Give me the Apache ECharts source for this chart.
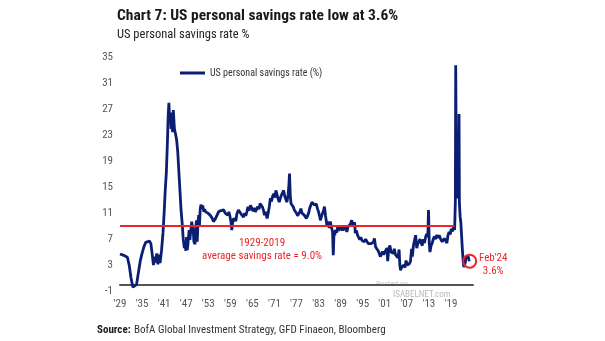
<!DOCTYPE html>
<html>
<head>
<meta charset="utf-8">
<script src="https://cdn.jsdelivr.net/npm/echarts@6/dist/echarts.min.js"></script>
<style>html,body{margin:0;padding:0;background:#fff}#c{width:605px;height:341px}</style>
</head>
<body>
<div id="c"></div>
<script>
var FONT = "'Liberation Sans Narrow', 'Roboto Condensed', 'Open Sans', sans-serif";
var years = [1929.0,1930.0,1931.0,1931.5,1932.0,1932.5,1933.0,1933.5,1934.0,1934.5,1935.0,1935.5,1936.0,1936.5,1937.0,1937.4,1937.8,1938.1,1938.4,1938.7,1939.0,1939.3,1939.6,1939.9,1940.3,1940.7,1941.0,1941.3,1941.6,1941.9,1942.1,1942.3,1942.5,1942.7,1942.9,1943.1,1943.3,1943.5,1943.8,1944.1,1944.4,1944.7,1945.0,1945.3,1945.6,1945.9,1946.2,1946.5,1946.7,1946.9,1947.1,1947.3,1947.5,1947.8,1948.0,1948.2,1948.5,1948.7,1948.9,1949.1,1949.4,1949.6,1949.8,1950.0,1950.2,1950.4,1950.6,1950.8,1951.0,1951.3,1951.5,1951.8,1952.0,1952.3,1952.6,1952.9,1953.2,1953.5,1953.8,1954.1,1954.4,1954.7,1955.0,1955.4,1955.8,1956.1,1956.5,1956.9,1957.2,1957.6,1958.0,1958.3,1958.6,1958.9,1959.2,1959.4,1959.6,1959.9,1960.2,1960.5,1960.8,1961.2,1961.5,1961.9,1962.3,1962.6,1962.9,1963.2,1963.5,1963.8,1964.1,1964.5,1964.9,1965.2,1965.5,1965.8,1966.2,1966.5,1966.8,1967.1,1967.4,1967.7,1968.0,1968.3,1968.6,1969.0,1969.3,1969.6,1969.9,1970.2,1970.5,1970.8,1971.1,1971.4,1971.7,1972.0,1972.3,1972.6,1972.9,1973.2,1973.5,1973.8,1974.1,1974.4,1974.7,1974.9,1975.1,1975.3,1975.5,1975.8,1976.1,1976.4,1976.7,1977.0,1977.3,1977.6,1977.9,1978.2,1978.5,1978.8,1979.1,1979.4,1979.7,1980.0,1980.3,1980.6,1980.9,1981.2,1981.5,1981.8,1982.1,1982.4,1982.7,1983.0,1983.3,1983.5,1983.8,1984.1,1984.4,1984.6,1984.9,1985.1,1985.3,1985.6,1985.9,1986.2,1986.5,1986.8,1987.0,1987.2,1987.4,1987.6,1987.9,1988.2,1988.5,1988.9,1989.2,1989.5,1989.8,1990.1,1990.4,1990.7,1991.0,1991.3,1991.7,1992.0,1992.2,1992.5,1992.8,1993.0,1993.3,1993.6,1993.9,1994.2,1994.5,1994.8,1995.1,1995.5,1995.8,1996.2,1996.5,1996.9,1997.2,1997.5,1997.9,1998.2,1998.5,1998.9,1999.2,1999.5,1999.8,2000.1,2000.4,2000.7,2001.0,2001.3,2001.6,2001.8,2002.1,2002.4,2002.7,2003.0,2003.3,2003.6,2003.9,2004.2,2004.6,2004.9,2005.1,2005.3,2005.6,2005.9,2006.2,2006.5,2006.8,2007.1,2007.4,2007.7,2008.0,2008.3,2008.5,2008.8,2009.1,2009.4,2009.7,2010.0,2010.3,2010.6,2010.9,2011.2,2011.5,2011.8,2012.1,2012.4,2012.7,2012.9,2013.1,2013.3,2013.6,2013.9,2014.2,2014.5,2014.8,2015.1,2015.5,2015.8,2016.2,2016.6,2016.9,2017.2,2017.6,2017.9,2018.2,2018.5,2018.8,2019.1,2019.4,2019.7,2019.9,2020.0,2020.2,2020.3,2020.4,2020.5,2020.6,2020.7,2020.9,2021.0,2021.1,2021.2,2021.3,2021.5,2021.7,2021.9,2022.1,2022.3,2022.5,2022.7,2022.9,2023.1,2023.4,2023.7,2023.9,2024.1];
var rates = [4.7,4.5,4.2,3.0,1.0,-0.4,-0.7,0.0,1.8,3.6,4.8,5.8,6.5,6.8,6.7,6.3,4.5,3.0,4.3,3.4,4.8,3.1,4.6,3.3,5.3,8.0,11.0,14.5,17.2,22.0,26.0,28.0,25.0,26.5,24.0,26.0,23.5,26.9,24.0,23.2,22.3,20.5,17.5,14.5,11.5,9.5,7.0,5.6,6.5,5.2,7.3,5.3,6.4,8.4,6.9,7.1,9.7,8.9,8.4,6.6,6.2,8.6,9.9,6.6,9.5,10.7,8.9,11.5,12.3,11.7,12.2,11.2,11.6,11.2,11.5,11.0,11.3,10.7,11.0,10.2,9.7,9.4,10.2,10.5,11.2,11.0,11.4,11.2,11.5,11.0,11.3,10.7,11.2,10.5,9.6,8.4,9.4,10.2,10.4,9.8,10.9,11.5,11.7,10.9,11.0,10.4,11.0,10.6,11.2,12.0,11.4,12.2,12.0,11.3,11.8,11.2,11.5,12.0,11.6,12.5,12.7,12.0,11.5,10.7,11.2,10.2,11.0,12.0,13.3,12.8,13.6,14.0,13.4,14.5,14.3,13.2,12.7,12.9,13.8,14.0,14.5,13.6,13.5,12.7,13.8,15.0,17.1,13.8,12.5,12.8,12.0,11.5,11.2,11.0,10.6,10.4,11.2,11.7,11.0,11.3,10.7,10.9,10.2,10.4,11.0,11.8,11.5,12.7,13.0,12.3,12.0,12.4,11.7,11.2,10.5,9.9,10.5,11.0,11.5,12.0,10.6,9.8,8.9,9.7,8.7,9.7,8.8,8.2,4.5,8.0,7.6,8.4,8.0,8.9,8.3,8.6,9.0,8.3,8.9,8.4,8.8,8.1,8.9,8.6,9.4,9.9,10.2,9.0,9.6,7.9,8.3,7.6,7.9,6.9,7.3,6.8,7.1,6.6,7.0,6.8,6.3,6.6,6.3,6.0,6.5,7.1,5.8,6.0,5.2,4.8,4.3,4.6,5.1,4.6,5.0,4.8,5.6,3.6,5.6,6.0,5.0,5.2,4.8,5.5,4.6,4.9,4.1,5.4,3.0,2.2,2.7,2.4,3.0,2.6,3.7,3.0,2.8,3.2,3.6,5.5,4.3,6.0,6.8,7.6,5.6,6.3,6.6,7.0,6.4,6.0,7.0,6.4,7.3,7.8,7.3,11.5,6.4,5.0,6.0,6.4,7.0,7.4,7.0,7.6,7.2,7.6,7.0,6.6,6.8,7.1,6.8,6.4,7.6,8.1,7.7,8.6,8.2,8.9,9.1,8.4,12.8,33.8,24.0,19.0,17.5,14.5,13.3,19.9,13.5,26.3,12.5,10.5,9.5,7.5,5.5,3.8,2.7,3.0,3.4,4.2,4.4,4.3,3.8,3.6];
var avgRate = 9.0;
var avgStart = 1929;
var avgEnd = 2019.9;
var latestYear = 2024.1;
var latestRate = 3.6;
var xMin = 1929, xMax = 2025, xLabelStep = 6;
var yMin = -1, yMax = 35, yLabelStep = 4;

var seriesData = years.map(function (y, i) { return [y, rates[i]]; });
var NAVY = '#0b1f72';
var RED = '#e8262b';
var GREY = '#555555';

var chart = echarts.init(document.getElementById('c'));
chart.setOption({
  animation: false,
  backgroundColor: '#ffffff',
  title: [
    { text: 'Chart 7: US personal savings rate low at 3.6%', left: 112, top: 3,
      textStyle: { fontFamily: FONT, fontSize: 15.5, fontWeight: 'bold', color: '#1a1a1a' } },
    { text: 'US personal savings rate %', left: 112, top: 23,
      textStyle: { fontFamily: FONT, fontSize: 12.5, fontWeight: 'normal', color: '#222' } }
  ],
  legend: {
    left: 175, top: 63, itemWidth: 25, itemHeight: 3, itemGap: 4, icon: 'rect',
    textStyle: { fontFamily: FONT, fontSize: 10, color: '#333' },
    data: ['US personal savings rate (%)']
  },
  grid: { left: 120, right: 132, top: 57.5, bottom: 50 },
  xAxis: {
    type: 'value', min: xMin, max: xMax, interval: 1,
    axisLine: { onZero: true, lineStyle: { color: GREY, width: 2 } },
    axisTick: { show: false },
    splitLine: { show: false },
    axisLabel: {
      margin: 8, color: GREY, fontFamily: FONT, fontSize: 11,
      formatter: function (v) {
        if ((v - xMin) % xLabelStep === 0 && v < 2024) return "'" + String(v).slice(2);
        return '';
      }
    }
  },
  yAxis: {
    type: 'value', min: yMin, max: yMax, interval: 1,
    axisLine: { show: false }, axisTick: { show: false }, splitLine: { show: false },
    axisLabel: {
      margin: 7, color: GREY, fontFamily: FONT, fontSize: 11,
      formatter: function (v) { return ((v - yMin) % yLabelStep === 0) ? String(v) : ''; }
    }
  },
  series: [{
    name: 'US personal savings rate (%)',
    type: 'line',
    data: seriesData,
    showSymbol: false,
    symbol: 'none',
    lineStyle: { color: NAVY, width: 2.8 },
    itemStyle: { color: NAVY },
    z: 3,
    markLine: {
      silent: true, symbol: 'none', z: 4,
      lineStyle: { color: RED, width: 2, type: 'solid' },
      label: { show: false },
      data: [[{ coord: [avgStart, avgRate] }, { coord: [avgEnd, avgRate] }]]
    },
    markPoint: {
      silent: true,
      symbol: 'circle', symbolSize: 13,
      itemStyle: { color: 'rgba(0,0,0,0)', borderColor: RED, borderWidth: 2 },
      label: {
        show: true, position: 'right', distance: 4, color: RED,
        fontFamily: FONT, fontSize: 11, lineHeight: 13, align: 'center', offset: [12, 4],
        formatter: "Feb'24\n" + latestRate.toFixed(1) + '%'
      },
      data: [{ coord: [latestYear, latestRate] }]
    }
  }],
  graphic: [
    { type: 'text', x: 262, y: 243, style: { text: avgStart + '-2019', fill: RED, font: '11px ' + FONT, textAlign: 'center', textVerticalAlign: 'middle' } },
    { type: 'text', x: 262, y: 256, style: { text: 'average savings rate = ' + avgRate.toFixed(1) + '%', fill: RED, font: '11px ' + FONT, textAlign: 'center', textVerticalAlign: 'middle' } },
    { type: 'text', x: 376, y: 284, style: { text: 'Posted on', fill: '#c8c8c8', font: '8px ' + FONT, textVerticalAlign: 'middle' } },
    { type: 'text', x: 393, y: 295, style: { text: 'ISABELNET.com', fill: '#b8b8b8', font: '9px ' + FONT, textVerticalAlign: 'middle' } },
    { type: 'text', x: 97, y: 330, style: {
        rich: { b: { fontWeight: 'bold', fontFamily: FONT, fontSize: 11, fill: '#1a1a1a' },
                n: { fontFamily: FONT, fontSize: 11, fill: '#333' } },
        text: '{b|Source:} {n|BofA Global Investment Strategy, GFD Finaeon, Bloomberg}',
        textVerticalAlign: 'middle' } }
  ]
});
</script>
</body>
</html>
